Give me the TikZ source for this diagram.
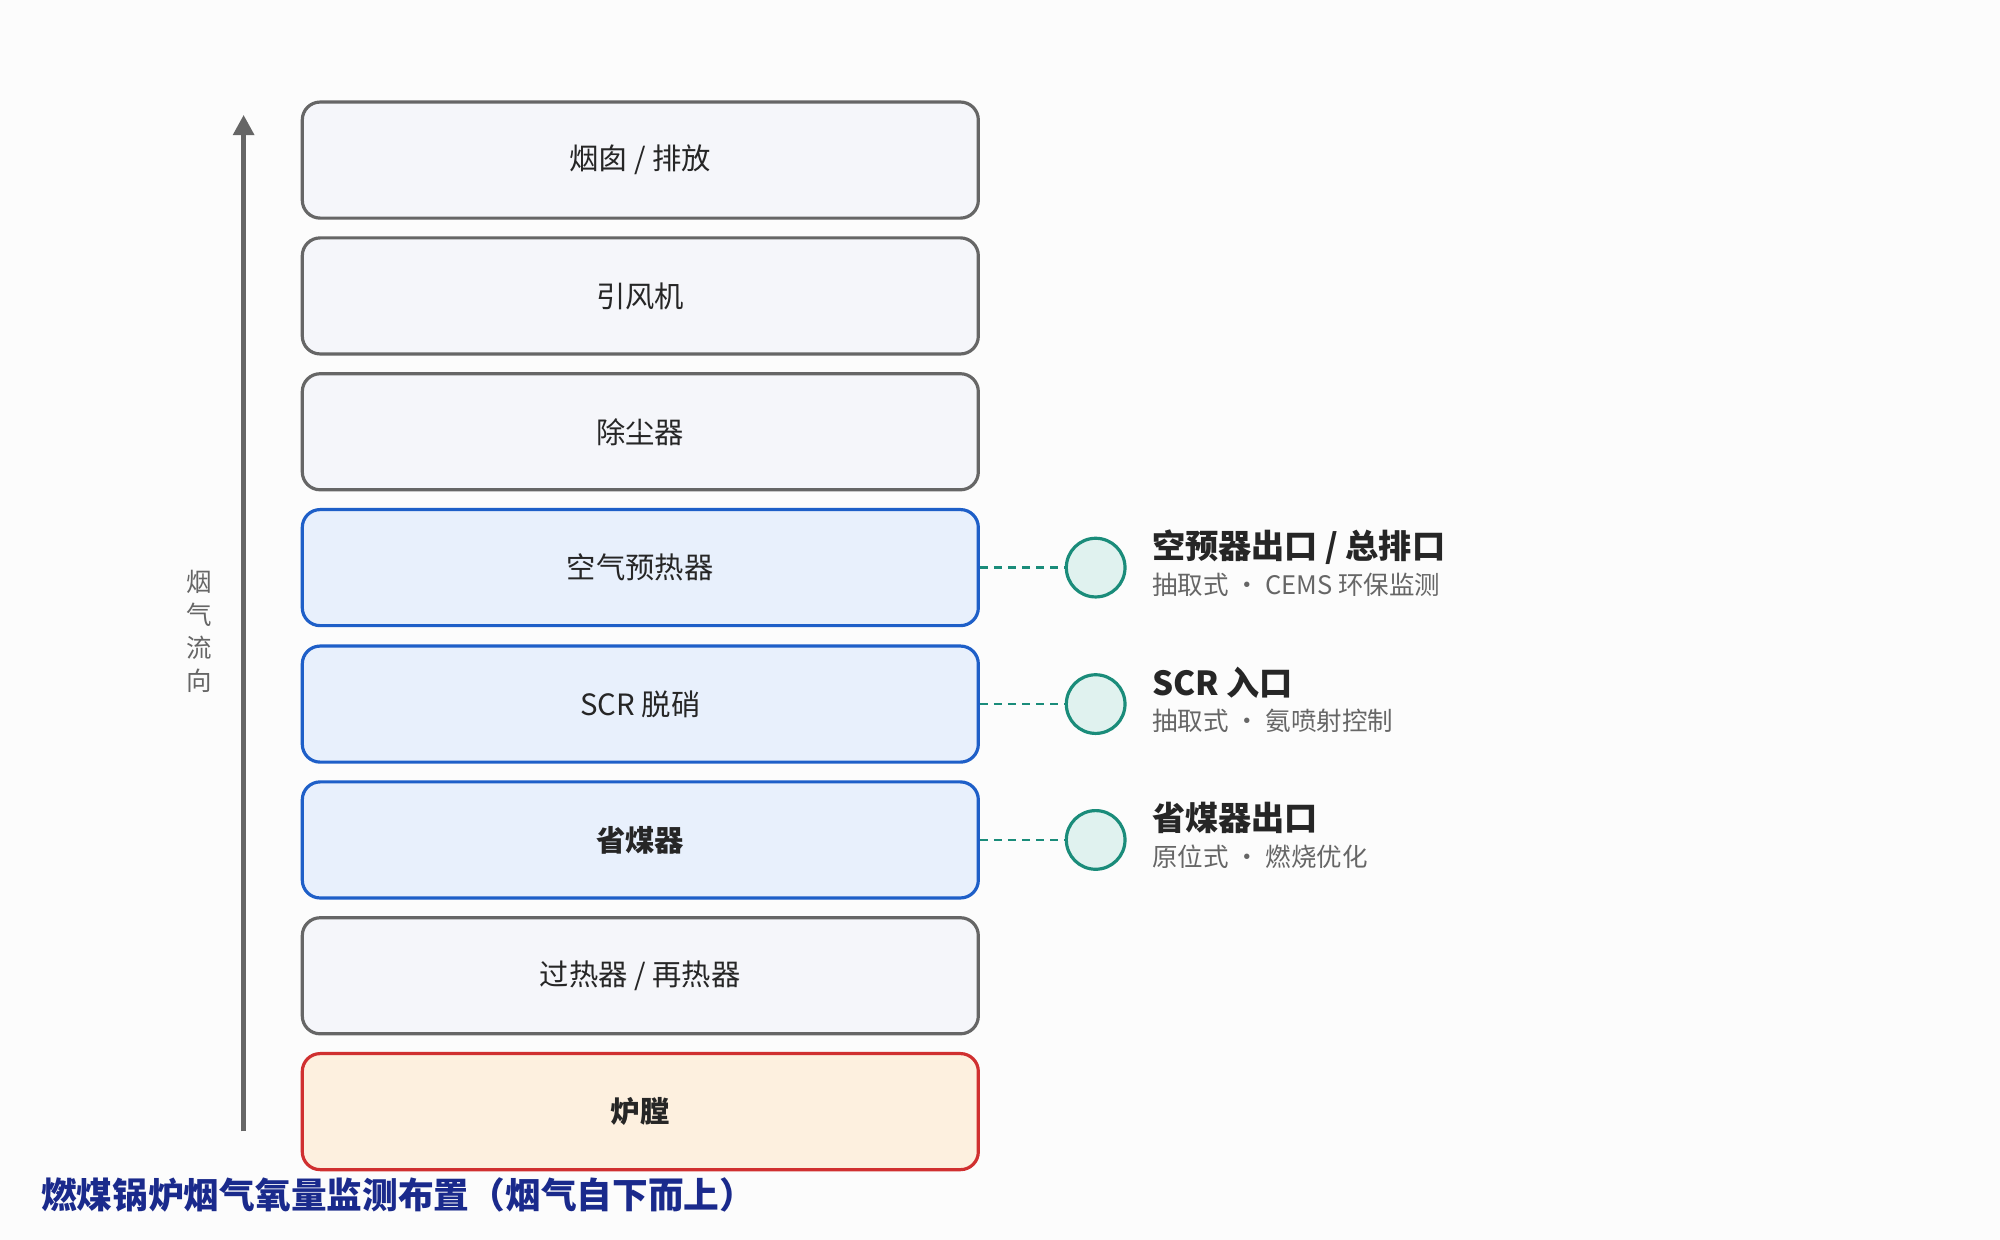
\documentclass[tikz,border=0pt]{standalone}
\usepackage{fontspec}
\setmainfont{Noto Sans CJK SC}
\usetikzlibrary{arrows.meta}
\definecolor{gb}{HTML}{666666}\definecolor{gf}{HTML}{F5F6FA}
\definecolor{bb}{HTML}{1E5FC8}\definecolor{bf}{HTML}{E8F0FC}
\definecolor{rb}{HTML}{D03030}\definecolor{rf}{HTML}{FDF0DF}
\definecolor{cb}{HTML}{1A8C7A}\definecolor{cf}{HTML}{E0F2EF}
\definecolor{tt}{HTML}{1A2A8C}
\begin{document}
\begin{tikzpicture}[x=1pt,y=-1pt,
 box/.style={rounded corners=14pt,line width=2.5pt,minimum width=530pt,minimum height=91pt,font=\fontsize{23}{27}\selectfont,text=black!85},
 grey/.style={box,draw=gb,fill=gf},
 blue/.style={box,draw=bb,fill=bf},
 red/.style={box,draw=rb,fill=rf},
 pt/.style={circle,draw=cb,fill=cf,line width=2.5pt,minimum size=46pt,inner sep=0},
 dl/.style={draw=cb,line width=2pt,dash pattern=on 6pt off 5pt},
 ttl/.style={anchor=base west,font=\bfseries\fontsize{26}{30}\selectfont,text=black!85,inner sep=0},
 sub/.style={anchor=base west,font=\fontsize{20}{24}\selectfont,text=black!60,inner sep=0}]
\useasboundingbox (0,0) rectangle (1568,972);
\fill[white!98!gray] (0,0) rectangle (1568,972);
\node[grey] (b1) at (502,125.5) {烟囱 / 排放};
\node[grey] (b2) at (502,232) {引风机};
\node[grey] (b3) at (502,338.5) {除尘器};
\node[blue] (b4) at (502,445) {空气预热器};
\node[blue] (b5) at (502,552) {SCR 脱硝};
\node[blue] (b6) at (502,658.5) {\bfseries 省煤器};
\node[grey] (b7) at (502,765) {过热器 / 再热器};
\node[red] (b8) at (502,871.5) {\bfseries 炉膛};
\coordinate (a0) at (191,887); \coordinate (a1) at (191,90);
\draw[gb,line width=4pt,-{Triangle[length=16pt,width=16pt]}] (a0) -- (a1);
\node[font=\fontsize{20}{26}\selectfont,text=black!60,align=center] (lab) at (156,495) {烟\\气\\流\\向};
\foreach \i in {4,5,6}{
 \node[pt] (c\i) at (859,0 |- b\i) {};
 \draw[dl] (b\i.east) -- (c\i.west);
}
\node[ttl] (t4) at (903,438) {空预器出口 / 总排口};
\node[sub] (s4) at (903,466) {抽取式 · CEMS 环保监测};
\node[ttl] (t5) at (903,545) {SCR 入口};
\node[sub] (s5) at (903,573) {抽取式 · 氨喷射控制};
\node[ttl] (t6) at (903,651) {省煤器出口};
\node[sub] (s6) at (903,679) {原位式 · 燃烧优化};
\node[anchor=west,font=\bfseries\fontsize{28}{32}\selectfont,text=tt,inner sep=0] (title) at (32,937) {燃煤锅炉烟气氧量监测布置（烟气自下而上）};
\end{tikzpicture}
\end{document}
